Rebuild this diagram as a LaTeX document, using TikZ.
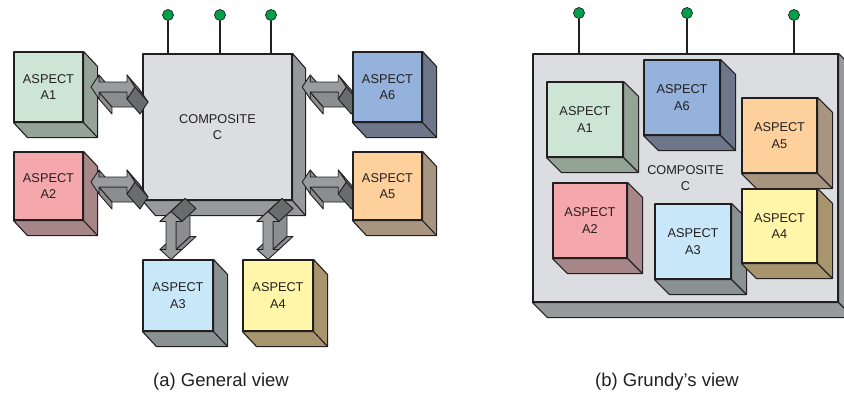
\documentclass[tikz,border=0pt]{standalone}
\usepackage{fontspec}
\setmainfont{Liberation Sans}
\usetikzlibrary{calc}

\definecolor{ink}{HTML}{231F20}
\definecolor{dotgreen}{HTML}{00A04A}
\definecolor{compfront}{HTML}{DCDDE0}
\definecolor{compside}{HTML}{98999C}
\definecolor{aonefront}{HTML}{CCE5D5}
\definecolor{aoneside}{HTML}{93A396}
\definecolor{atwofront}{HTML}{F5A8AB}
\definecolor{atwoside}{HTML}{A68688}
\definecolor{athreefront}{HTML}{C8E8FA}
\definecolor{athreeside}{HTML}{899192}
\definecolor{afourfront}{HTML}{FFF6A9}
\definecolor{afourside}{HTML}{A8956E}
\definecolor{afivefront}{HTML}{FDD09C}
\definecolor{afiveside}{HTML}{A8957F}
\definecolor{asixfront}{HTML}{94B2DC}
\definecolor{asixside}{HTML}{6E778A}
\definecolor{arrowfront}{HTML}{9A9B9D}
\definecolor{arrowside}{HTML}{8C8D8F}
\definecolor{arrowend}{HTML}{6A6B6D}

\tikzset{
  face/.style={draw=ink, line width=1.1pt, line join=round},
  box/.style={face, rectangle, inner sep=0pt, align=center, text=ink,
    font=\fontsize{12.75}{16.5}\selectfont},
  antennadot/.style={circle, draw=ink, fill=dotgreen, line width=0.7pt,
    minimum size=11pt, inner sep=0pt},
  stem/.style={draw=ink, line width=1.2pt},
  arrface/.style={draw=ink, line width=0.9pt, line join=round, fill=arrowfront},
  arrside/.style={arrface, fill=arrowside},
  arrend/.style={arrface, fill=arrowend},
  caption/.style={text=ink, font=\fontsize{18.5}{22}\selectfont, anchor=base},
  % horizontal double arrow, extruded down-right
  hbar/.pic={
    \path[arrside] (-14,-12) -- (-14,-5) -- (-1,10) -- (-1,3) -- cycle;
    \path[arrside] (-14,5) -- (-14,12) -- (-1,27) -- (-1,20) -- cycle;
    \path[arrside] (14,5) -- (-14,5) -- (-1,20) -- (27,20) -- cycle;
    \path[arrside] (14,-12) -- (22,0) -- (35,15) -- (27,3) -- cycle;
    \path[arrend] (22,0) -- (14,12) -- (27,27) -- (35,15) -- cycle;
    \path[arrface] (-22,0) -- (-14,-12) -- (-14,-5) -- (14,-5) -- (14,-12)
      -- (22,0) -- (14,12) -- (14,5) -- (-14,5) -- (-14,12) -- cycle;
  },
  % vertical double arrow, extruded up-right
  vbar/.pic={
    \path[arrside] (-11,14) -- (-5,14) -- (9,1) -- (3,1) -- cycle;
    \path[arrside] (5,14) -- (11,14) -- (25,1) -- (19,1) -- cycle;
    \path[arrside] (5,-14) -- (5,14) -- (19,1) -- (19,-27) -- cycle;
    \path[arrend] (-11,-14) -- (0,-24) -- (14,-37) -- (3,-27) -- cycle;
    \path[arrend] (0,-24) -- (11,-14) -- (25,-27) -- (14,-37) -- cycle;
    \path[arrface] (0,-24) -- (11,-14) -- (5,-14) -- (5,14) -- (11,14)
      -- (0,24) -- (-11,14) -- (-5,14) -- (-5,-14) -- (-11,-14) -- cycle;
  },
}

% block with a front face (node) and a bevelled right and bottom side
% #1 name, #2 x, #3 y, #4 width, #5 height, #6 front colour, #7 side colour,
% #8 text, #9 depth offset
\newcommand\cubebox[9]{%
  \node[box, minimum width=#4pt, minimum height=#5pt, fill=#6] (#1) at (#2,#3) {#8};
  \path[face, fill=#7] (#1.north east) -- ([shift={(#9)}]#1.north east)
    -- ([shift={(#9)}]#1.south east) -- ([shift={(#9)}]#1.south west)
    -- (#1.south west) -- (#1.south east) -- cycle;
  \draw[face] (#1.south east) -- ([shift={(#9)}]#1.south east);
}

\begin{document}
\begin{tikzpicture}[x=1pt, y=-1pt]
  \useasboundingbox (0,0) rectangle (844,392);

  % ---------- (a) general view ----------
  \cubebox{comp}{217.5}{127}{149}{146}{compfront}{compside}{COMPOSITE\\C}{13,15}
  \foreach \px/\nm in {168/pa1, 220/pa2, 271/pa3} {
    \node[antennadot] (\nm) at (\px,15) {};
    \draw[stem] (\nm.south) -- (\nm |- comp.north);
  }
  \cubebox{a1}{48.5}{87}{69}{70}{aonefront}{aoneside}{ASPECT\\A1}{14,15}
  \cubebox{a2}{48.5}{186}{69}{68}{atwofront}{atwoside}{ASPECT\\A2}{14,15}
  \cubebox{a3}{178}{295.5}{70}{71}{athreefront}{athreeside}{ASPECT\\A3}{14,15}
  \cubebox{a4}{278}{295.5}{70}{71}{afourfront}{afourside}{ASPECT\\A4}{14,15}

  \pic at ($(a1.east)!0.5!(a1.east -| comp.west)$) {hbar};
  \pic at ($(a2.east)!0.5!(a2.east -| comp.west) + (0,-4)$) {hbar};
  \pic at ($(a3.north) + (-7,-24)$) {vbar};
  \pic at ($(a4.north) + (-10,-24)$) {vbar};
  \pic at ($(353,87 -| comp.east)!0.5!(353,87) + (1.5,0)$) {hbar};
  \pic at ($(353,182 -| comp.east)!0.5!(353,182) + (1.5,0)$) {hbar};

  \cubebox{a6}{387.5}{87}{69}{70}{asixfront}{asixside}{ASPECT\\A6}{14,15}
  \cubebox{a5}{387.5}{186}{69}{68}{afivefront}{afiveside}{ASPECT\\A5}{14,15}

  \node[caption] (capa) at (221,386) {(a) General view};

  % ---------- (b) Grundy's view ----------
  \cubebox{board}{685.5}{178}{305}{248}{compfront}{compside}{COMPOSITE\\C}{15,15}
  \foreach \px/\py/\nm in {579/13/pb1, 687/13/pb2, 794/15/pb3} {
    \node[antennadot] (\nm) at (\px,\py) {};
    \draw[stem] (\nm.south) -- (\nm |- board.north);
  }
  \cubebox{b1}{585}{119.5}{76}{75}{aonefront}{aoneside}{ASPECT\\A1}{15,15}
  \cubebox{b6}{682}{97.5}{76}{75}{asixfront}{asixside}{ASPECT\\A6}{15,15}
  \cubebox{b5}{779.5}{135.5}{75}{75}{afivefront}{afiveside}{ASPECT\\A5}{15,15}
  \cubebox{b2}{590}{220.5}{74}{75}{atwofront}{atwoside}{ASPECT\\A2}{15,15}
  \cubebox{b3}{693}{241.5}{76}{75}{athreefront}{athreeside}{ASPECT\\A3}{15,15}
  \cubebox{b4}{779.5}{226}{75}{74}{afourfront}{afourside}{ASPECT\\A4}{15,15}

  \node[caption] (capb) at (667,386) {(b) Grundy’s view};
\end{tikzpicture}
\end{document}
